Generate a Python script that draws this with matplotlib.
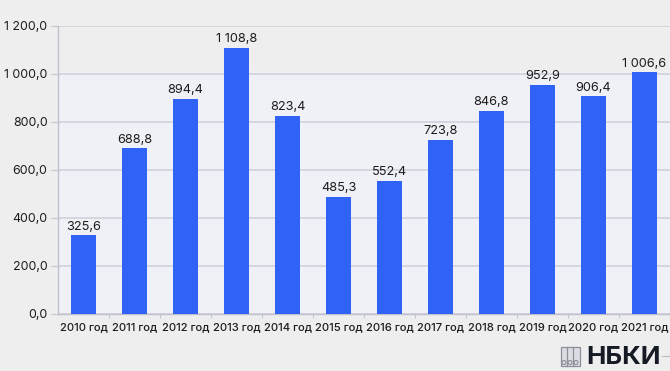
import matplotlib
matplotlib.use("Agg")
import matplotlib.pyplot as plt
from matplotlib.lines import Line2D
from matplotlib.patches import Rectangle, Ellipse

years = ["2010 год", "2011 год", "2012 год", "2013 год", "2014 год", "2015 год",
         "2016 год", "2017 год", "2018 год", "2019 год", "2020 год", "2021 год"]
values = [325.6, 688.8, 894.4, 1108.8, 823.4, 485.3, 552.4, 723.8, 846.8, 952.9, 906.4, 1006.6]
y_ticks = [0, 200, 400, 600, 800, 1000, 1200]


# 1 200,0 / 325,6 - russian number format
def fmt(v):
    whole, frac = f"{v:.1f}".split(".")
    if len(whole) > 3:
        whole = whole[:-3] + " " + whole[-3:]
    return whole + "," + frac


W, H = 670, 371
plt.rcParams["font.family"] = ["Inter", "DejaVu Sans"]

fig = plt.figure(figsize=(W / 100, H / 100), dpi=100, facecolor="#eeeeee")
ax = fig.add_axes([58 / W, 1 - 313.5 / H, 612 / W, 287.5 / H], facecolor="#f0f1f7")

x = range(len(years))
ax.bar(x, values, width=0.49, color="#2f62f5", zorder=3)
for i, v in zip(x, values):
    ax.annotate(fmt(v), (i, v), xytext=(0, 2), textcoords="offset points",
                ha="center", va="bottom", fontsize=9.2, color="#1c1c1c", zorder=4)

ax.set_xlim(-0.5, len(years) - 0.5)
ax.set_ylim(0, 1200)
ax.set_yticks(y_ticks)
ax.set_yticklabels([fmt(t) for t in y_ticks], fontsize=8.9, color="#1c1c1c")
ax.set_xticks([i - 0.5 for i in x][1:] + [len(years) - 0.5])
ax.set_xticklabels([])
for i, label in zip(x, years):
    ax.annotate(label, (i, 0), xytext=(0, -6.5), textcoords="offset points",
                ha="center", va="top", fontsize=8.1, fontweight="medium", color="#1c1c1c")

ax.grid(axis="y", color="#d0d1dc", lw=1.2, zorder=1)
ax.tick_params(axis="y", length=5, color="#c4c5d2", pad=2.5)
ax.tick_params(axis="x", length=3, color="#c4c5d2")
for s in ["top", "right"]:
    ax.spines[s].set_visible(False)
for s in ["left", "bottom"]:
    ax.spines[s].set_color("#c0c1ce")
    ax.spines[s].set_linewidth(1)

# the top band of the plot is grey like the page, the video overlay covers it
ax.axhspan(1015, 1200, color="#eeeeef", zorder=0)

# НБКИ logo
fig.text(586 / W, 1 - 357 / H, "НБКИ", fontsize=18.6, fontweight="bold",
         color="#151a24", ha="left", va="center")
fig.add_artist(Rectangle((560.5 / W, 1 - 366 / H), 19 / W, 19 / H, fc="#dcdde2", ec="#8d8f99",
                         lw=0.9, transform=fig.transFigure))
for px in [567, 573]:
    fig.add_artist(Line2D([px / W, px / W], [1 - 366 / H, 1 - 347 / H], color="#8d8f99",
                          lw=0.9, transform=fig.transFigure))
for px in [564, 570, 576]:
    fig.add_artist(Ellipse((px / W, 1 - 362.5 / H), 4 / W, 4 / H, fc="#dcdde2", ec="#8d8f99",
                           lw=0.8, transform=fig.transFigure))
fig.add_artist(Line2D([662 / W, 670 / W], [1 - 356 / H, 1 - 356 / H], color="#b9bac2",
                      lw=0.8, transform=fig.transFigure))

fig.savefig("out.png", dpi=100, facecolor=fig.get_facecolor())
